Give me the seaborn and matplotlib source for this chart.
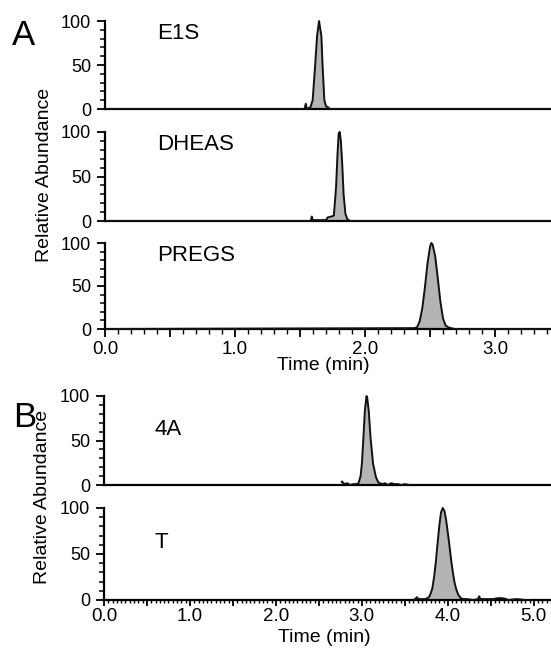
import matplotlib
matplotlib.use("Agg")
import matplotlib.pyplot as plt
from matplotlib.ticker import MultipleLocator, FuncFormatter
import seaborn as sns

# -------------------------
# Chromatogram traces (time in min, relative abundance in %)
# -------------------------

# panel A
e1s_t = [0.0, 1.535, 1.544, 1.553, 1.580, 1.597, 1.615, 1.631, 1.646, 1.664, 1.674, 1.687, 1.700, 1.715, 1.731, 3.43]
e1s_y = [0, 0, 6, 0, 2, 10, 47, 83, 100, 83, 47, 10, 3, 2, 0, 0]

dheas_t = [0.0, 1.582, 1.590, 1.598, 1.640, 1.700, 1.712, 1.740, 1.760, 1.777, 1.788, 1.797, 1.805,
           1.814, 1.824, 1.835, 1.849, 1.864, 1.885, 3.43]
dheas_y = [0, 0, 5, 1, 1, 1, 4, 5, 6, 38, 75, 98, 100, 90, 65, 30, 8, 2, 0, 0]

pregs_t = [0.0, 2.38, 2.40, 2.42, 2.44, 2.46, 2.48, 2.50, 2.51, 2.52, 2.54, 2.56, 2.58, 2.60, 2.62,
           2.64, 2.66, 2.69, 3.43]
pregs_y = [0, 1, 2, 9, 24, 48, 76, 96, 100, 98, 84, 58, 31, 12, 4, 2, 1, 0, 0]

# panel B
a4_t = [2.764, 2.770, 2.785, 2.800, 2.830, 2.860, 2.900, 2.940, 2.960, 2.985, 3.000, 3.016, 3.035,
        3.054, 3.062, 3.080, 3.101, 3.130, 3.163, 3.190, 3.210, 3.240, 3.270, 3.300, 3.340, 3.380,
        3.420, 3.460, 3.500, 3.558]
a4_y = [3, 4, 2, 1, 2, 0, 1, 1, 2, 10, 24, 50, 84, 100, 98, 83, 53, 24, 9, 3, 2, 1, 2, 0, 2, 1, 1, 0, 1, 0]

t_t = [3.597, 3.620, 3.640, 3.660, 3.700, 3.740, 3.760, 3.780, 3.800, 3.820, 3.840, 3.860, 3.880,
       3.900, 3.920, 3.940, 3.960, 3.980, 4.000, 4.020, 4.040, 4.060, 4.080, 4.100, 4.120, 4.150,
       4.180, 4.220, 4.300, 4.350, 4.364, 4.380, 4.450, 4.530, 4.580, 4.630, 4.680, 4.700, 4.800,
       4.900, 4.953]
t_y = [0, 1, 3, 1, 1, 1, 2, 3, 7, 13, 25, 41, 61, 80, 95, 100, 97, 87, 73, 58, 42, 29, 18, 11, 6,
       2, 1, 1, 0, 1, 4, 1, 1, 1, 2, 2, 1, 0, 1, 0, 0]

compounds_a = ["E1S", "DHEAS", "PREGS"]
compounds_b = ["4A", "T"]

# -------------------------
# Style
# -------------------------

sns.set_theme(style="ticks")
plt.rcParams["font.family"] = ["Liberation Sans", "DejaVu Sans"]
plt.rcParams["text.color"] = "black"
plt.rcParams["axes.labelcolor"] = "black"
plt.rcParams["xtick.color"] = "black"
plt.rcParams["ytick.color"] = "black"
plt.rcParams["xtick.labelcolor"] = "black"
plt.rcParams["ytick.labelcolor"] = "black"

W, H = 551, 649
fig = plt.figure(figsize=(W / 100, H / 100), dpi=100)
fig.patch.set_facecolor("white")


def px_axes(left, right, top, bottom):
    return fig.add_axes([left / W, 1 - bottom / H, (right - left) / W, (bottom - top) / H])


def style_axes(ax, xmax, show_x, xminor, xlen, xfont, xpad):
    for side in ["top", "right"]:
        ax.spines[side].set_visible(False)
    for side in ["left", "bottom"]:
        ax.spines[side].set_linewidth(1.6)
        ax.spines[side].set_color("black")
    ax.set_facecolor("none")
    ax.set_xlim(0, xmax)
    ax.set_ylim(0, 100)
    ax.yaxis.set_major_locator(MultipleLocator(50))
    ax.yaxis.set_minor_locator(MultipleLocator(10))
    ax.tick_params(axis="y", which="major", length=6, width=1.3, labelsize=13, pad=4,
                   color="black", labelcolor="black")
    ax.tick_params(axis="y", which="minor", length=3.5, width=1.1, color="black")
    ax.set_xlabel("")
    ax.set_ylabel("")
    if show_x:
        ax.xaxis.set_major_locator(MultipleLocator(0.5))
        ax.xaxis.set_minor_locator(MultipleLocator(xminor))
        ax.xaxis.set_major_formatter(
            FuncFormatter(lambda v, p: f"{v:.1f}" if abs(v - round(v)) < 1e-6 else ""))
        ax.tick_params(axis="x", which="major", length=xlen, width=1.3, labelsize=xfont,
                       pad=xpad, color="black", labelcolor="black")
        ax.tick_params(axis="x", which="minor", length=xlen * 0.6, width=1.0, color="black")
    else:
        ax.set_xticks([])


def draw_trace(ax, t, y):
    ax.fill_between(t, y, 0, color="#b4b4b4", linewidth=0, zorder=2)
    sns.lineplot(x=t, y=y, ax=ax, color="#111111", linewidth=1.4, sort=False,
                 estimator=None, zorder=3)
    for line in ax.lines:
        line.set_clip_on(False)


# -------------------------
# Panel A
# -------------------------

axes_a = [px_axes(105, 551, 21, 109), px_axes(105, 551, 132, 221), px_axes(105, 551, 243, 329)]
traces_a = [(e1s_t, e1s_y), (dheas_t, dheas_y), (pregs_t, pregs_y)]

for i, (ax, (t, y), name) in enumerate(zip(axes_a, traces_a, compounds_a)):
    draw_trace(ax, t, y)
    style_axes(ax, 3.43, i == 2, 0.1, 5.5, 13.5, 3)
    ax.text(0.117, 0.86, name, transform=ax.transAxes, fontsize=16, va="center", ha="left",
            color="black")

fig.text(45 / W, 1 - 175 / H, "Relative Abundance", rotation=90, fontsize=14,
         ha="center", va="center", color="black")
fig.text(323 / W, 1 - 365 / H, "Time (min)", fontsize=14, ha="center", va="center", color="black")
fig.text(12 / W, 1 - 45 / H, "A", fontsize=25, ha="left", va="baseline", color="black")

# -------------------------
# Panel B
# -------------------------

axes_b = [px_axes(104, 551, 396, 485), px_axes(104, 551, 508, 600)]
traces_b = [(a4_t, a4_y), (t_t, t_y)]

for i, (ax, (t, y), name) in enumerate(zip(axes_b, traces_b, compounds_b)):
    draw_trace(ax, t, y)
    style_axes(ax, 5.2, i == 1, 0.05, 4, 13.5, 1.5)
    ax.text(0.114, 0.62, name, transform=ax.transAxes, fontsize=16, va="center", ha="left",
            color="black")

fig.text(43 / W, 1 - 497 / H, "Relative Abundance", rotation=90, fontsize=14,
         ha="center", va="center", color="black")
fig.text(324 / W, 1 - 638 / H, "Time (min)", fontsize=14, ha="center", va="center", color="black")
fig.text(13 / W, 1 - 427 / H, "B", fontsize=25, ha="left", va="baseline", color="black")

fig.savefig("out.png", dpi=100, facecolor="white")
plt.close(fig)
